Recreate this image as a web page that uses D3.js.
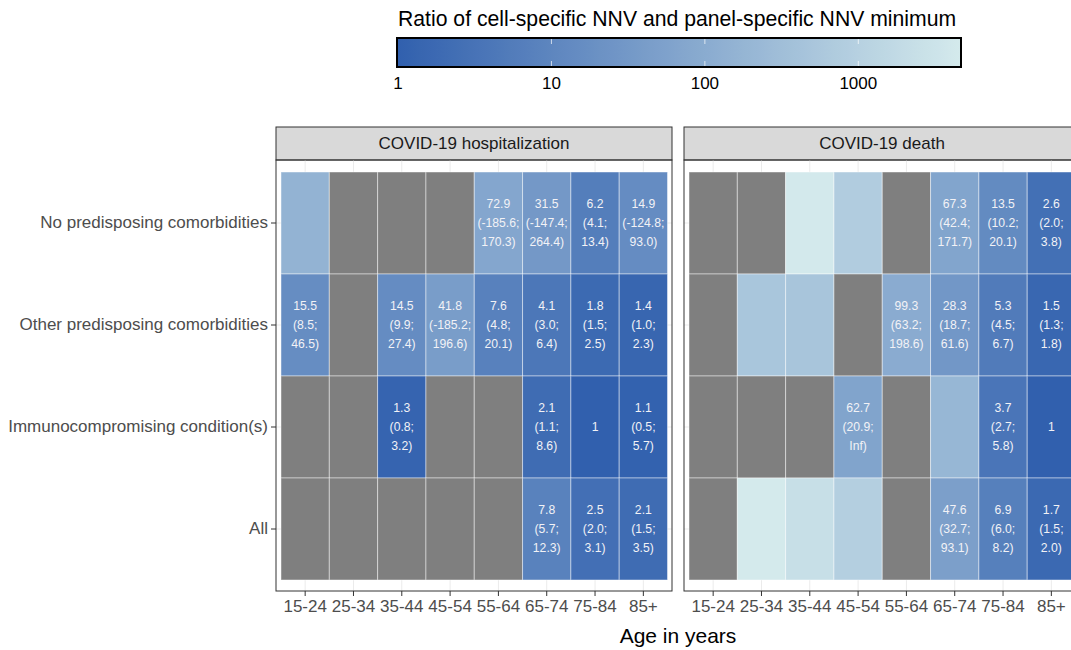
<!DOCTYPE html>
<html>
<head>
<meta charset="utf-8">
<script src="https://cdn.jsdelivr.net/npm/d3@7"></script>
<style>
  body { margin: 0; background: #fff; }
  svg { display: block; font-family: "Liberation Sans", Arial, Helvetica, sans-serif; }
</style>
</head>
<body>
<svg id="chart" width="1071" height="650"></svg>
<script>
// Age bands on the x axis, condition groups on the y axis, one facet per outcome
const ageGroups = ["15-24", "25-34", "35-44", "45-54", "55-64", "65-74", "75-84", "85+"];
const conditions = [
  "No predisposing comorbidities",
  "Other predisposing comorbidities",
  "Immunocompromising condition(s)",
  "All"
];
const outcomes = ["COVID-19 hospitalization", "COVID-19 death"];

// Ratio of cell-specific NNV to the panel minimum (null = not estimable)
const hospRatio = [
  [160, null, null, null, 72.9, 31.5, 6.2, 14.9],
  [15.5, null, 14.5, 41.8, 7.6, 4.1, 1.8, 1.4],
  [null, null, 1.3, null, null, 2.1, 1, 1.1],
  [null, null, null, null, null, 7.8, 2.5, 2.1]
];
const hospLabel = [
  ["", "", "", "", "72.9|(-185.6;|170.3)", "31.5|(-147.4;|264.4)", "6.2|(4.1;|13.4)", "14.9|(-124.8;|93.0)"],
  ["15.5|(8.5;|46.5)", "", "14.5|(9.9;|27.4)", "41.8|(-185.2;|196.6)", "7.6|(4.8;|20.1)", "4.1|(3.0;|6.4)", "1.8|(1.5;|2.5)", "1.4|(1.0;|2.3)"],
  ["", "", "1.3|(0.8;|3.2)", "", "", "2.1|(1.1;|8.6)", "1", "1.1|(0.5;|5.7)"],
  ["", "", "", "", "", "7.8|(5.7;|12.3)", "2.5|(2.0;|3.1)", "2.1|(1.5;|3.5)"]
];
const deathRatio = [
  [null, null, 4400, 750, null, 67.3, 13.5, 2.6],
  [null, 500, 480, null, 99.3, 28.3, 5.3, 1.5],
  [null, null, null, 62.7, null, 200, 3.7, 1],
  [null, 4600, 2400, 870, null, 47.6, 6.9, 1.7]
];
const deathLabel = [
  ["", "", "", "", "", "67.3|(42.4;|171.7)", "13.5|(10.2;|20.1)", "2.6|(2.0;|3.8)"],
  ["", "", "", "", "99.3|(63.2;|198.6)", "28.3|(18.7;|61.6)", "5.3|(4.5;|6.7)", "1.5|(1.3;|1.8)"],
  ["", "", "", "62.7|(20.9;|Inf)", "", "", "3.7|(2.7;|5.8)", "1"],
  ["", "", "", "", "", "47.6|(32.7;|93.1)", "6.9|(6.0;|8.2)", "1.7|(1.5;|2.0)"]
];
const legendTicks = [1, 10, 100, 1000];
const ratioDomain = [1, 4600];

const svg = d3.select("#chart");
const font = "\"Liberation Sans\", Arial, sans-serif";

const color = d3.scaleLog()
  .domain(ratioDomain)
  .range(["#3160ae", "#d4eaec"])
  .interpolate(d3.interpolateRgb);
const naColor = "#7f7f7f";

// ---- colour bar legend ----
const legendX = d3.scaleLog().domain(ratioDomain).range([398, 960]);
const grad = svg.append("defs").append("linearGradient").attr("id", "ratioGrad");
d3.range(0, 1.0001, 0.02).forEach(t => {
  const v = Math.pow(10, Math.log10(ratioDomain[0]) + t * (Math.log10(ratioDomain[1]) - Math.log10(ratioDomain[0])));
  grad.append("stop").attr("offset", t).attr("stop-color", color(v));
});
svg.append("text")
  .attr("x", 398).attr("y", 26)
  .attr("font-size", 21.2).attr("fill", "#000")
  .text("Ratio of cell-specific NNV and panel-specific NNV minimum");
svg.append("rect")
  .attr("x", legendX.range()[0]).attr("y", 39)
  .attr("width", legendX.range()[1] - legendX.range()[0]).attr("height", 27)
  .attr("fill", "url(#ratioGrad)");
legendTicks.slice(1).forEach(t => {
  const x = legendX(t);
  svg.append("line").attr("x1", x).attr("x2", x).attr("y1", 39).attr("y2", 44)
    .attr("stroke", "#fff").attr("stroke-opacity", 0.7).attr("stroke-width", 1);
  svg.append("line").attr("x1", x).attr("x2", x).attr("y1", 61).attr("y2", 66)
    .attr("stroke", "#fff").attr("stroke-opacity", 0.7).attr("stroke-width", 1);
});
svg.append("rect")
  .attr("x", legendX.range()[0] - 1).attr("y", 38)
  .attr("width", legendX.range()[1] - legendX.range()[0] + 2).attr("height", 29)
  .attr("fill", "none").attr("stroke", "#000").attr("stroke-width", 2);
svg.selectAll(".legend-tick")
  .data(legendTicks)
  .join("text")
  .attr("x", d => legendX(d)).attr("y", 89)
  .attr("text-anchor", "middle").attr("font-size", 17).attr("fill", "#000")
  .text(d => d3.format("d")(d));

// ---- facets ----
const panels = [
  { x0: 276, x1: 672, ratio: hospRatio, label: hospLabel, title: outcomes[0] },
  { x0: 684, x1: 1080, ratio: deathRatio, label: deathLabel, title: outcomes[1] }
];
const stripTop = 127, panelTop = 160, panelBottom = 591;
const y = d3.scaleBand().domain(conditions).range([172, 580]).padding(0);

panels.forEach((p, pi) => {
  const x = d3.scaleBand().domain(ageGroups).range([p.x0 + 5, p.x1 - 4.5]).padding(0);
  const g = svg.append("g");

  // strip
  g.append("rect")
    .attr("x", p.x0).attr("y", stripTop)
    .attr("width", p.x1 - p.x0).attr("height", panelTop - stripTop)
    .attr("fill", "#d9d9d9").attr("stroke", "#333").attr("stroke-width", 1);
  g.append("text")
    .attr("x", (p.x0 + p.x1) / 2).attr("y", (stripTop + panelTop) / 2)
    .attr("dy", "0.35em").attr("text-anchor", "middle")
    .attr("font-size", 17).attr("fill", "#1a1a1a")
    .text(p.title);

  // grid lines
  g.selectAll(".vgrid").data(ageGroups).join("line")
    .attr("x1", d => x(d) + x.bandwidth() / 2).attr("x2", d => x(d) + x.bandwidth() / 2)
    .attr("y1", panelTop).attr("y2", panelBottom)
    .attr("stroke", "#ebebeb").attr("stroke-width", 1);
  g.selectAll(".hgrid").data(conditions).join("line")
    .attr("x1", p.x0).attr("x2", p.x1)
    .attr("y1", d => y(d) + y.bandwidth() / 2).attr("y2", d => y(d) + y.bandwidth() / 2)
    .attr("stroke", "#ebebeb").attr("stroke-width", 1);

  // tiles
  const cells = [];
  conditions.forEach((c, ri) => ageGroups.forEach((a, ci) => {
    cells.push({ cond: c, age: a, value: p.ratio[ri][ci], label: p.label[ri][ci] });
  }));
  g.selectAll(".tile").data(cells).join("rect")
    .attr("x", d => x(d.age)).attr("y", d => y(d.cond))
    .attr("width", x.bandwidth()).attr("height", y.bandwidth())
    .attr("fill", d => d.value == null ? naColor : color(d.value))
    .attr("stroke", "#ffffff").attr("stroke-opacity", 0.45).attr("stroke-width", 1);

  // cell labels: estimate with confidence interval
  const lab = g.selectAll(".cell-label").data(cells.filter(d => d.label)).join("text")
    .attr("text-anchor", "middle").attr("font-size", 12.2).attr("fill", "#f2f2f6");
  lab.each(function (d) {
    const lines = d.label.split("|");
    const cx = x(d.age) + x.bandwidth() / 2;
    const cy = y(d.cond) + y.bandwidth() / 2;
    const t = d3.select(this);
    lines.forEach((ln, i) => {
      t.append("tspan")
        .attr("x", cx)
        .attr("y", cy + (i - (lines.length - 1) / 2) * 19)
        .attr("dy", "0.35em")
        .text(ln);
    });
  });

  // panel border
  g.append("rect")
    .attr("x", p.x0).attr("y", panelTop)
    .attr("width", p.x1 - p.x0).attr("height", panelBottom - panelTop)
    .attr("fill", "none").attr("stroke", "#333").attr("stroke-width", 1);

  // x axis
  const xa = g.append("g").attr("transform", `translate(0,${panelBottom})`)
    .call(d3.axisBottom(x).tickSize(5).tickPadding(4));
  xa.select(".domain").remove();
  xa.selectAll("line").attr("stroke", "#333");
  xa.selectAll("text").attr("font-size", 17).attr("fill", "#4d4d4d").attr("font-family", font);

  // y axis on the first facet only
  if (pi === 0) {
    const ya = g.append("g").attr("transform", `translate(${p.x0},0)`)
      .call(d3.axisLeft(y).tickSize(5).tickPadding(3));
    ya.select(".domain").remove();
    ya.selectAll("line").attr("stroke", "#333");
    ya.selectAll("text").attr("font-size", 17).attr("fill", "#4d4d4d").attr("font-family", font);
  }
});

// x axis title
svg.append("text")
  .attr("x", 678).attr("y", 643)
  .attr("text-anchor", "middle").attr("font-size", 21).attr("fill", "#000")
  .text("Age in years");
</script>
</body>
</html>
